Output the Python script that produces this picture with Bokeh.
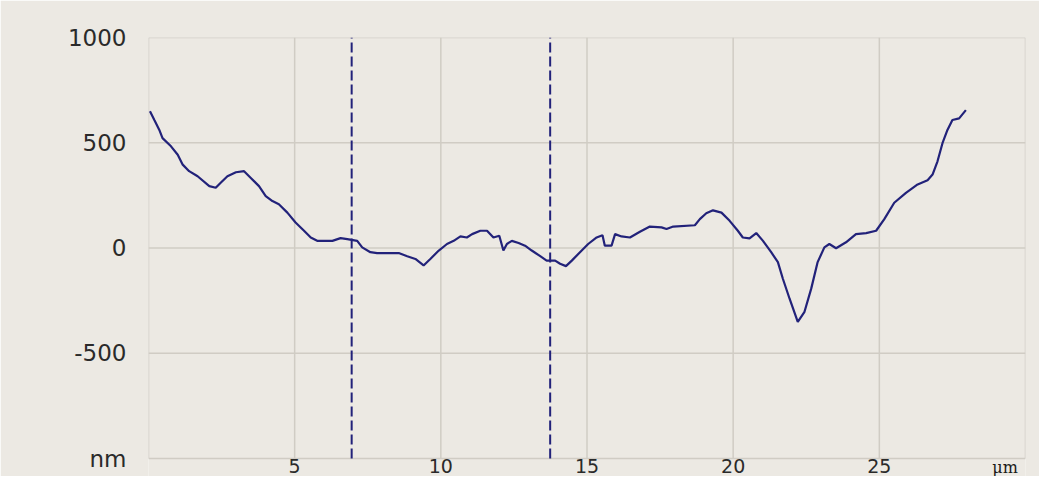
from bokeh.plotting import figure
from bokeh.models import FixedTicker
from bokeh.core.properties import value
from bokeh.embed import file_html
from bokeh.resources import INLINE

# profile data (µm, nm)
x_um = [0.05, 0.2, 0.37, 0.48, 0.77, 1.0, 1.17, 1.39, 1.68, 2.08, 2.3, 2.47, 2.7, 2.99, 3.27,
        3.5, 3.78, 4.01, 4.24, 4.46, 4.75, 5.03, 5.32, 5.55, 5.77, 6.29, 6.57, 6.8, 7.14, 7.31,
        7.59, 7.82, 8.56, 8.85, 9.13, 9.41, 9.64, 9.93, 10.21, 10.44, 10.67, 10.89, 11.07, 11.35,
        11.58, 11.8, 12.0, 12.14, 12.26, 12.43, 12.66, 12.88, 13.11, 13.4, 13.62, 13.91, 14.08,
        14.28, 14.48, 14.76, 15.04, 15.33, 15.53, 15.61, 15.84, 15.96, 16.18, 16.47, 16.81,
        17.15, 17.55, 17.72, 17.95, 18.69, 18.86, 19.08, 19.31, 19.6, 19.88, 20.16, 20.33, 20.56,
        20.79, 21.02, 21.3, 21.53, 21.7, 21.93, 22.21, 22.44, 22.67, 22.89, 23.12, 23.29, 23.52,
        23.86, 24.2, 24.55, 24.89, 25.17, 25.51, 25.91, 26.31, 26.65, 26.82, 26.99, 27.16, 27.33,
        27.5, 27.73, 27.96]
height_nm = [650, 608, 561, 522, 483, 443, 396, 365, 341, 294, 286, 310, 341, 360, 365,
             333, 294, 247, 223, 208, 168, 121, 82, 50, 34, 34, 47, 42, 34, 3,
             -20, -24, -24, -39, -52, -83, -52, -12, 19, 34, 55, 50, 66, 82,
             82, 50, 58, -12, 19, 34, 24, 11, -12, -39, -60, -60, -75,
             -86, -60, -20, 19, 50, 61, 11, 11, 66, 55, 50, 77,
             102, 98, 90, 102, 108, 137, 165, 179, 168, 129, 82, 50, 46,
             71, 34, -20, -67, -146, -241, -351, -303, -193, -67, 3, 19, -1,
             27, 66, 71, 82, 137, 215, 262, 302, 322, 349, 412, 498, 561,
             608, 616, 655]

cursor_x = [6.95, 13.74]
x_grid = [0, 5, 10, 15, 20, 25, 30]
x_ticks = [5, 10, 15, 20, 25]
x_labels = ["5", "10", "15", "20", "25"]
x_unit_pos = [29.3]
x_unit = ["µm"]
y_grid = [-1000, -500, 0, 500, 1000]
y_ticks = [-1000, -500, 0, 500, 1000]
y_labels = ["nm", "-500", "0", "500", "1000"]
X_MIN, X_MAX = 0, 30
Y_MIN, Y_MAX = -1000, 1000

BG = "#ECE9E3"
GRID = "#D0CCC4"
LINE = "#22227A"
TXT = "#2a2a2a"

# extra band below -1000 holds the x tick labels inside the frame
p = figure(width=1039, height=476, x_range=(X_MIN, X_MAX), y_range=(Y_MIN - 85.5, Y_MAX),
           output_backend="svg", toolbar_location=None,
           background_fill_color=BG, border_fill_color=BG,
           min_border_left=148, min_border_right=14, min_border_top=37, min_border_bottom=0)

p.outline_line_color = None
p.xaxis.visible = False
p.grid.visible = False

p.yaxis.ticker = FixedTicker(ticks=y_ticks)
p.yaxis.major_label_overrides = {t: s for t, s in zip(y_ticks, y_labels)}
p.yaxis.axis_line_color = None
p.yaxis.major_tick_line_color = None
p.yaxis.minor_tick_line_color = None
p.yaxis.major_label_text_font = "DejaVu Sans"
p.yaxis.major_label_text_color = TXT
p.yaxis.major_label_text_font_size = "23px"
p.yaxis.major_label_standoff = 16

# grid lines bounded to the plot box
p.segment(x0=x_grid, x1=x_grid, y0=[Y_MIN] * len(x_grid), y1=[Y_MAX] * len(x_grid),
          line_color=GRID, line_width=1.5)
p.segment(x0=[X_MIN] * len(y_grid), x1=[X_MAX] * len(y_grid), y0=y_grid, y1=y_grid,
          line_color=GRID, line_width=1.5)

p.line(x_um, height_nm, line_color=LINE, line_width=2.2)

p.segment(x0=cursor_x, x1=cursor_x, y0=[Y_MIN] * len(cursor_x), y1=[Y_MAX] * len(cursor_x),
          line_color=LINE, line_width=2, line_dash="10 4")

p.text(x=x_ticks, y=[Y_MIN] * len(x_ticks), text=x_labels, y_offset=0,
       text_align="center", text_baseline="top",
       text_font=value("DejaVu Sans"), text_font_size="19px", text_color=TXT)
p.text(x=x_unit_pos, y=[Y_MIN], text=x_unit, y_offset=-1,
       text_align="center", text_baseline="top",
       text_font=value("DejaVu Serif"), text_font_size="16px", text_color="#1a1a1a")

open("out.html", "w").write(file_html(p, INLINE))
